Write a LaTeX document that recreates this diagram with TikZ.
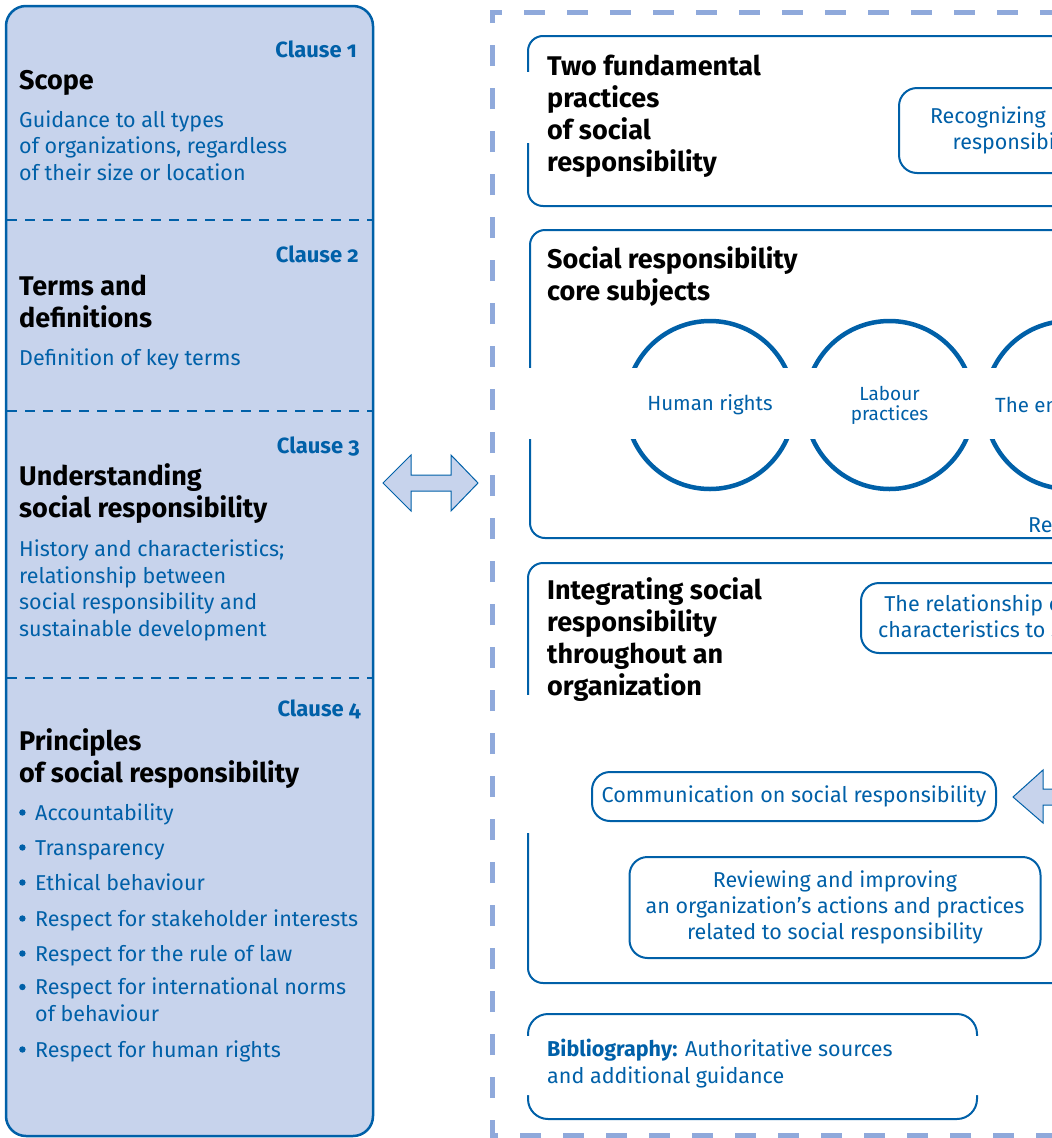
\documentclass[tikz,border=0pt]{standalone}
\usepackage{fontspec}
\setmainfont{Fira Sans}
\usepackage{xcolor}
\definecolor{isoblue}{HTML}{0060A8}
\definecolor{panelfill}{HTML}{C7D3EC}
\definecolor{framedash}{HTML}{8FA9DB}
\newcommand{\isobullet}{\makebox[16pt][l]{\raisebox{4.3pt}{\tikz\fill[isoblue] (0,0) circle (3.2pt);}}}

\begin{document}
\begin{tikzpicture}[x=1pt,y=-1pt,
    hd/.style={anchor=base west,inner sep=0pt,align=left,font=\fontsize{27}{32}\selectfont\bfseries},
    txt/.style={anchor=base west,inner sep=0pt,align=left,text=isoblue,font=\fontsize{21.5}{26.5}\selectfont},
    clause/.style={anchor=base east,inner sep=0pt,text=isoblue,font=\fontsize{22}{24}\selectfont\bfseries\addfontfeature{Numbers=OldStyle}},
    sub/.style={draw=isoblue,line width=2pt,rounded corners=15pt},
    subnode/.style={draw=isoblue,line width=2pt,rounded corners=18pt,fill=white,align=center,text=isoblue,font=\fontsize{21.5}{26}\selectfont},
    blockarrow/.style={fill=panelfill,draw=isoblue,line width=1pt}]
    \useasboundingbox (0,0) rectangle (1052,1138);
    \clip (0,0) rectangle (1052,1138);
    %left panel
    \draw[isoblue,fill=panelfill,line width=2.5pt,rounded corners=20pt] (6,6) rectangle (373,1136);
    \foreach \yy in {220,411,678}{
    \draw[isoblue,line width=1.8pt,dash pattern=on 10pt off 8pt] (7,\yy)--(372,\yy);
    }
    % (multi-line nodes sit on the baseline of their last line)
    \node[clause] (c1) at (357,57) {Clause 1};
    \node[hd] (scope) at (19,89) {Scope};
    \node[txt] (scopetxt) at (19,180) {Guidance to all types\\of organizations, regardless\\of their size or location};
    \node[clause] (c2) at (359,262) {Clause 2};
    \node[hd] (terms) at (19,327) {Terms and\\definitions};
    \node[txt] (termstxt) at (19,365) {Definition of key terms};
    \node[clause] (c3) at (360,453) {Clause 3};
    \node[hd] (underst) at (19,517) {Understanding\\social responsibility};
    \node[txt] (understtxt) at (19,636) {History and characteristics;\\relationship between\\social responsibility and\\sustainable development};
    \node[clause] (c4) at (361,716) {Clause 4};
    \node[hd] (princ) at (19,782) {Principles\\of social responsibility};
    \foreach \yy/\tt [count=\i] in {820/{Accountability},855/{Transparency},890/{Ethical behaviour},
        926/{Respect for stakeholder interests},961/{Respect for the rule of law},
        1021/{Respect for international norms\\\hspace*{16pt}of behaviour},1057/{Respect for human rights}}{
    \node[txt] (bul\i) at (19,\yy) {\isobullet\tt};
    }
    %arrows
    \draw[blockarrow] (383,483)--(411,455)--(411,475)--(451,475)--(451,455)--(478,483)
        --(451,511)--(451,491)--(411,491)--(411,511)--cycle;
    %right frame
    \draw[framedash,line width=5pt,dash pattern=on 21pt off 22pt] (1100,1135)--(492,1135)--(492,12)--(1100,12);
    %two fundamental practices
    \draw[sub] (528,36) rectangle (1120,206);
    \fill[white] (520,72) rectangle (536,143);
    \node[hd] (twofund) at (547,171) {Two fundamental\\practices\\of social\\responsibility};
    \node[subnode,anchor=west,inner xsep=31pt,minimum height=85pt] (recog) at (898,130.5) {Recognizing social\\responsibility};
    %core subjects
    \draw[sub] (530,230) rectangle (1120,538);
    \foreach \cx in {710,889.5,1069}{
    \draw[isoblue,line width=4.5pt] (\cx,405) circle (84pt);
    }
    \fill[white] (520,368) rectangle (1100,439);
    \node[hd] (core) at (547,300) {Social responsibility\\core subjects};
    \node[text=isoblue,font=\fontsize{20.5}{26}\selectfont] (hr) at (710,405) {Human rights};
    \node[text=isoblue,align=center,font=\fontsize{19}{20}\selectfont] (lab) at (889.5,405) {Labour\\practices};
    \node[text=isoblue,font=\fontsize{20.5}{26}\selectfont] (env) at (1074,405) {The environment};
    \node[txt] (rel) at (1028,532) {Related actions and expectations};
    %integrating
    \draw[sub] (528,563) rectangle (1120,983);
    \fill[white] (520,695) rectangle (536,833);
    \node[hd] (integr) at (547,695) {Integrating social\\responsibility\\throughout an\\organization};
    \node[subnode,anchor=west,inner xsep=17pt,minimum height=70pt] (relat) at (860,618) {The relationship of an organization’s\\characteristics to social responsibility};
    \node[subnode,minimum width=404pt,minimum height=49pt] (comm) at (794,796.5) {Communication on social responsibility};
    \draw[blockarrow] (1013,797)--(1043,770)--(1043,789)--(1100,789)--(1100,805)--(1043,805)--(1043,823)--cycle;
    \node[subnode,minimum width=411pt,minimum height=101pt] (review) at (835,907.5) {Reviewing and improving\\an organization’s actions and practices\\related to social responsibility};
    %bibliography
    \draw[sub,rounded corners=20pt] (528,1014) rectangle (977,1119);
    \fill[white] (520,1036) rectangle (536,1095) (969,1036) rectangle (985,1095);
    \node[txt] (biblio) at (547,1083) {\textbf{Bibliography:} Authoritative sources\\and additional guidance};
\end{tikzpicture}
\end{document}
